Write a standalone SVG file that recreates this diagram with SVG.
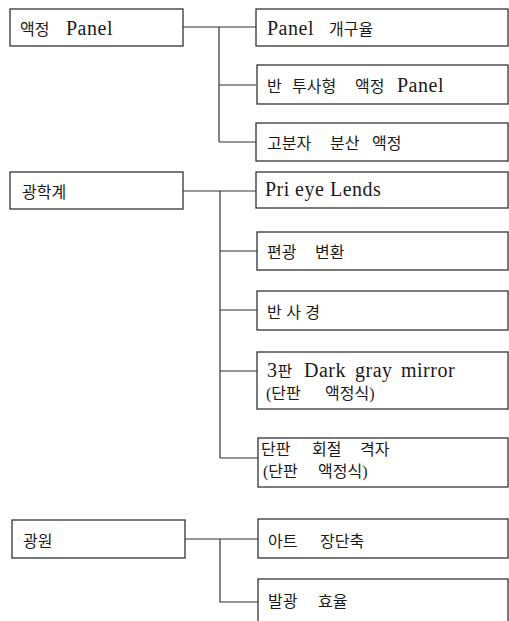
<svg xmlns="http://www.w3.org/2000/svg" width="509" height="621" viewBox="0 0 509 621">
<style>
.box{fill:#fff;stroke:#333;stroke-width:1.3}
.t{font-family:"Liberation Serif","Noto Sans CJK KR",serif;font-size:16px;fill:#1a1a1a}
.l{font-size:20px;letter-spacing:0.5px}
.c{fill:none;stroke:#333;stroke-width:1.2}
</style>
<rect width="509" height="621" fill="#fff"/>
<g id="connectors">
<path class="c" d="M183,27 H256 M219,27 V142 M219,85 H256 M219,142 H256"/>
<path class="c" d="M183,191 H256 M220,191 V458 M220,251 H257 M220,310 H257 M220,371 H257 M220,458 H258"/>
<path class="c" d="M185,539 H258 M220,539 V602 H258"/>
</g>
<g id="n-lcd-panel"><rect class="box" x="10" y="9" width="173" height="37"/><text class="t" y="35"><tspan x="20">액정</tspan> <tspan class="l" x="66">Panel</tspan></text></g>
<g id="n-aperture"><rect class="box" x="256" y="9" width="252" height="37"/><text class="t" y="35"><tspan class="l" x="267">Panel</tspan> <tspan x="329">개구율</tspan></text></g>
<g id="n-transflective"><rect class="box" x="257" y="65" width="251" height="39"/><text class="t" y="92"><tspan x="267">반</tspan> <tspan x="292">투사형</tspan> <tspan x="355">액정</tspan> <tspan class="l" x="397">Panel</tspan></text></g>
<g id="n-polymer"><rect class="box" x="256" y="123" width="252" height="38"/><text class="t" y="149"><tspan x="267">고분자</tspan> <tspan x="330">분산</tspan> <tspan x="372">액정</tspan></text></g>
<g id="n-optics"><rect class="box" x="10" y="172" width="173" height="37"/><text class="t" y="198"><tspan x="22">광학계</tspan></text></g>
<g id="n-prieye"><rect class="box" x="256" y="172" width="252" height="36"/><text class="t" y="196"><tspan class="l" x="265">Pri</tspan> <tspan class="l" x="295">eye</tspan> <tspan class="l" x="330">Lends</tspan></text></g>
<g id="n-polar"><rect class="box" x="257" y="232" width="251" height="38"/><text class="t" y="258"><tspan x="267">편광</tspan> <tspan x="315">변환</tspan></text></g>
<g id="n-mirror"><rect class="box" x="257" y="291" width="251" height="39"/><text class="t" y="318"><tspan x="267" textLength="53" lengthAdjust="spacing">반사경</tspan></text></g>
<g id="n-darkgray"><rect class="box" x="257" y="352" width="251" height="57"/><text class="t" y="377"><tspan class="l" x="267">3</tspan><tspan>판</tspan> <tspan class="l" x="304">Dark</tspan> <tspan class="l" x="355">gray</tspan> <tspan class="l" x="401">mirror</tspan></text><text class="t" y="399"><tspan x="266">(단판</tspan> <tspan x="325">액정식)</tspan></text></g>
<g id="n-grating"><rect class="box" x="258" y="438" width="250" height="49"/><text class="t" y="455"><tspan x="261">단판</tspan> <tspan x="312">회절</tspan> <tspan x="360">격자</tspan></text><text class="t" y="477"><tspan x="263">(단판</tspan> <tspan x="318">액정식)</tspan></text></g>
<g id="n-source"><rect class="box" x="12" y="520" width="173" height="38"/><text class="t" y="547"><tspan x="23">광원</tspan></text></g>
<g id="n-arc"><rect class="box" x="258" y="519" width="250" height="39"/><text class="t" y="547"><tspan x="268">아트</tspan> <tspan x="320">장단축</tspan></text></g>
<g id="n-efficiency"><rect class="box" x="258" y="579" width="250" height="60"/><text class="t" y="607"><tspan x="268">발광</tspan> <tspan x="318">효율</tspan></text></g>
</svg>
